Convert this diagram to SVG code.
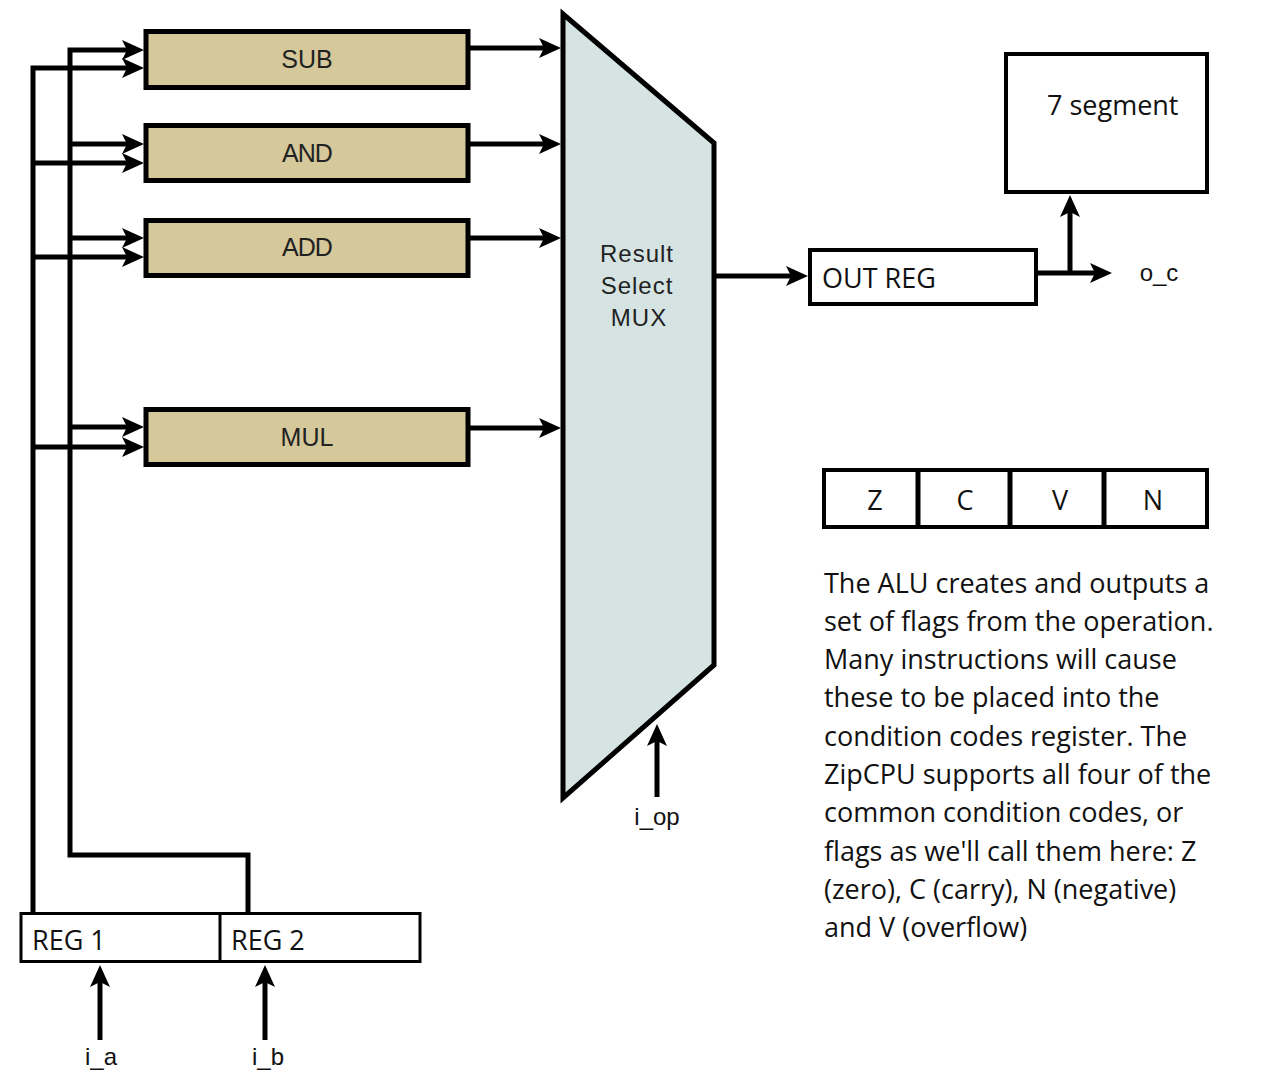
<svg xmlns="http://www.w3.org/2000/svg" width="1280" height="1089" viewBox="0 0 1280 1089">
<style>
.op{fill:#d5c89b;stroke:#000;stroke-width:5}
.box{fill:#fff;stroke:#000;stroke-width:4}
.w{fill:none;stroke:#000;stroke-width:5}
.a{fill:none;stroke:#000;stroke-width:5;marker-end:url(#ah)}
.lbl{font-family:"Liberation Sans",Arial,sans-serif;font-size:25px;fill:#222;text-anchor:middle}
.mx{font-family:"Liberation Sans",Arial,sans-serif;font-size:24px;fill:#222;text-anchor:middle;letter-spacing:1px}
.cal{font-family:"Open Sans","Noto Sans",sans-serif;font-size:27px;fill:#111}
.sig{font-family:"Liberation Sans",Arial,sans-serif;font-size:24px;fill:#111;text-anchor:middle}
</style>
<defs>
<marker id="ah" markerUnits="userSpaceOnUse" markerWidth="24" markerHeight="22" refX="13" refY="10" orient="auto" overflow="visible">
<path d="M0,0 L22,10 L0,20 L5,10 Z" fill="#000"/>
</marker>
</defs>
<rect width="1280" height="1089" fill="#fff"/>

<g id="connectors">
<polyline class="w" points="33,913 33,68 135,68" marker-end="url(#ah)"/>
<line class="a" x1="33" y1="163" x2="135" y2="163"/>
<line class="a" x1="33" y1="257" x2="135" y2="257"/>
<line class="a" x1="33" y1="447" x2="135" y2="447"/>
<polyline class="w" points="248,913 248,855 70,855 70,50 135,50" marker-end="url(#ah)"/>
<line class="a" x1="70" y1="144" x2="135" y2="144"/>
<line class="a" x1="70" y1="238" x2="135" y2="238"/>
<line class="a" x1="70" y1="427" x2="135" y2="427"/>
<line class="a" x1="470" y1="48" x2="552" y2="48"/>
<line class="a" x1="470" y1="144" x2="552" y2="144"/>
<line class="a" x1="470" y1="238" x2="552" y2="238"/>
<line class="a" x1="470" y1="428" x2="552" y2="428"/>
<line class="a" x1="714" y1="276" x2="799" y2="276"/>
<line class="a" x1="1036" y1="273" x2="1103" y2="273"/>
<line class="a" x1="1070" y1="273" x2="1070" y2="204"/>
<line class="a" x1="100" y1="1040" x2="100" y2="974"/>
<line class="a" x1="265" y1="1040" x2="265" y2="974"/>
<line class="a" x1="657" y1="797" x2="657" y2="733"/>
</g>

<g id="sub"><rect class="op" x="146" y="31.5" width="322" height="56"/><text class="lbl" x="307" y="68">SUB</text></g>
<g id="and"><rect class="op" x="146" y="125.5" width="322" height="55"/><text class="lbl" x="307" y="162" letter-spacing="-1">AND</text></g>
<g id="add"><rect class="op" x="146" y="220.5" width="322" height="55"/><text class="lbl" x="307" y="256" letter-spacing="-1">ADD</text></g>
<g id="mul"><rect class="op" x="146" y="409.5" width="322" height="55"/><text class="lbl" x="307" y="446" font-size="26">MUL</text></g>

<g id="mux">
<polygon points="563,14 714,143 714,665 563,798" fill="#d6e3e3" stroke="#000" stroke-width="5" stroke-linejoin="miter"/>
<text class="mx" x="637" y="262">Result</text>
<text class="mx" x="637" y="294">Select</text>
<text class="mx" x="639" y="326">MUX</text>
</g>

<g id="outreg"><rect class="box" x="810" y="250" width="226" height="54"/><text class="cal" x="822" y="288">OUT REG</text></g>
<g id="seg7"><rect class="box" x="1006" y="54" width="201" height="138"/><text class="cal" x="1047" y="115">7 segment</text></g>
<g id="oc"><text class="sig" x="1159" y="281">o_c</text></g>

<g id="flags">
<rect class="box" x="824" y="470" width="383" height="57"/>
<line class="w" x1="918" y1="470" x2="918" y2="527" stroke-width="4"/>
<line class="w" x1="1010" y1="470" x2="1010" y2="527" stroke-width="4"/>
<line class="w" x1="1104" y1="470" x2="1104" y2="527" stroke-width="4"/>
<text class="cal" x="875" y="510" text-anchor="middle">Z</text>
<text class="cal" x="965" y="510" text-anchor="middle">C</text>
<text class="cal" x="1060" y="510" text-anchor="middle">V</text>
<text class="cal" x="1153" y="510" text-anchor="middle">N</text>
</g>

<g id="regs">
<rect x="21" y="913.5" width="399" height="48" fill="#fff" stroke="#000" stroke-width="3"/>
<line x1="220" y1="913" x2="220" y2="962" stroke="#000" stroke-width="3"/>
<text class="cal" x="32" y="950">REG 1</text>
<text class="cal" x="231" y="950">REG 2</text>
</g>

<g id="inputs">
<text class="sig" x="101" y="1065">i_a</text>
<text class="sig" x="268" y="1065">i_b</text>
<text class="sig" x="657" y="825">i_op</text>
</g>

<g id="note" class="cal">
<text x="824" y="593">The ALU creates and outputs a</text>
<text x="824" y="631">set of flags from the operation.</text>
<text x="824" y="669">Many instructions will cause</text>
<text x="824" y="707">these to be placed into the</text>
<text x="824" y="746">condition codes register. The</text>
<text x="824" y="784">ZipCPU supports all four of the</text>
<text x="824" y="822">common condition codes, or</text>
<text x="824" y="861">flags as we'll call them here: Z</text>
<text x="824" y="899">(zero), C (carry), N (negative)</text>
<text x="824" y="937">and V (overflow)</text>
</g>
</svg>
